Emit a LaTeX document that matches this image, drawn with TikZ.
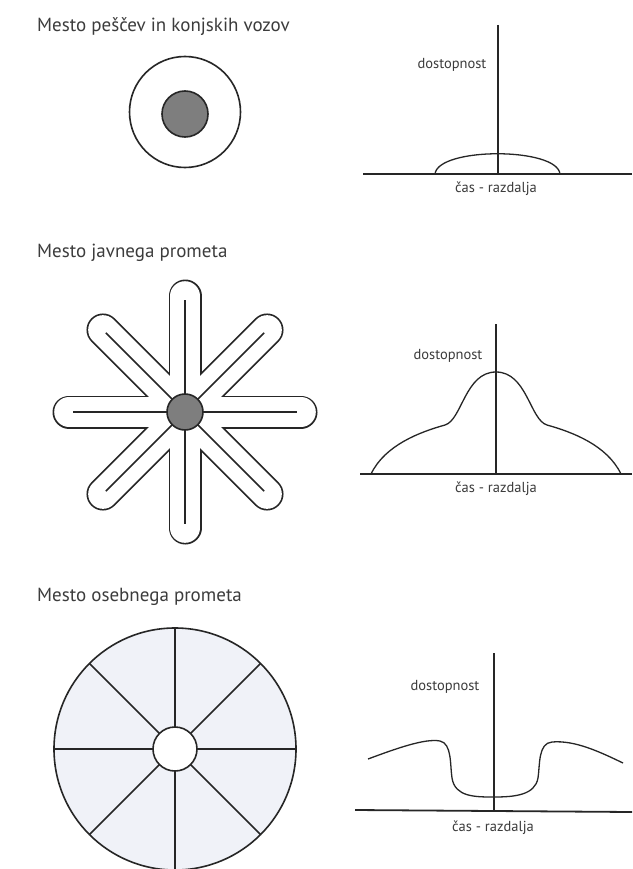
\documentclass[tikz,border=0pt]{standalone}
\usepackage{fontspec}
\setmainfont{PT Sans}
\definecolor{txt}{HTML}{3C3C3C}
\definecolor{hub}{HTML}{7E7E7E}
\definecolor{tint}{HTML}{F0F2F8}
\begin{document}
\begin{tikzpicture}[x=1pt,y=-1pt,
  title/.style={anchor=west,text=txt,font=\fontsize{19}{22}\selectfont,inner sep=0pt},
  lbl/.style={text=txt,font=\fontsize{14.5}{17}\selectfont,inner sep=0pt},
  axis/.style={line width=1.8pt,black!85},
  curve/.style={line width=1.3pt,black!85},
  ring/.style={line width=1.6pt,black!85},
  spoke/.style={line width=1.6pt,black!85},
  armout/.style={line width=33pt,line cap=round,black!85},
  armin/.style={line width=29.6pt,line cap=round,white},
  armline/.style={line width=1.5pt,black!85}]
\path[use as bounding box] (0,0) rectangle (632,869);
\clip (0,0) rectangle (632,869);
\fill[white] (0,0) rectangle (632,869);

% ---------- Panel 1 ----------
\node[title] (t1) at (37,27) {Mesto peščev in konjskih vozov};
\draw[ring] (185,112) circle (55.5);
\draw[ring,fill=hub] (185,114) circle (23);

\coordinate (y1t) at (498,25);
\coordinate (y1b) at (498,175);
\coordinate (x1l) at (363,174);
\coordinate (x1r) at (632,174);
\draw[axis] (y1t) -- (y1b);
\draw[axis] (x1l) -- (x1r);
\draw[curve] (435,174) .. controls (438,147) and (557,147) .. (560,174);
\node[lbl] (d1) at (452,65) {dostopnost};
\node[lbl] (c1) at (496,189) {čas - razdalja};

% ---------- Panel 2 ----------
\node[title] (t2) at (37,253) {Mesto javnega prometa};
\coordinate (s) at (185,412);
\foreach \a in {0,45,...,315} {
  \draw[armout] (s) -- ++(\a:116);
}
\foreach \a in {0,45,...,315} {
  \draw[armin] (s) -- ++(\a:116);
}
\foreach \a in {0,45,...,315} {
  \draw[armline] (s) -- ++(\a:112);
}
\draw[ring,fill=hub] (s) circle (18);

\coordinate (y2t) at (496,324);
\coordinate (y2b) at (496,475);
\coordinate (x2l) at (360,474);
\coordinate (x2r) at (632,474);
\draw[axis] (y2t) -- (y2b);
\draw[axis] (x2l) -- (x2r);
\draw[curve] (371,474) .. controls (385,445) and (420,432) .. (445,425)
  .. controls (462,420) and (465,372) .. (496,372)
  .. controls (527,372) and (530,420) .. (547,425)
  .. controls (572,432) and (607,445) .. (621,474);
\node[lbl] (d2) at (448,356) {dostopnost};
\node[lbl] (c2) at (496,489) {čas - razdalja};

% ---------- Panel 3 ----------
\node[title] (t3) at (37,597) {Mesto osebnega prometa};
\coordinate (w) at (175,749);
\draw[ring,fill=tint] (w) circle (121);
\foreach \a in {0,45,...,315} {
  \draw[spoke] (w) ++(\a:22) -- ++(\a:99);
}
\draw[ring,fill=white] (w) circle (22);

\coordinate (y3t) at (494,653);
\coordinate (y3b) at (494,812);
\coordinate (x3l) at (355,810);
\coordinate (x3r) at (632,812);
\draw[axis] (y3t) -- (y3b);
\draw[axis] (x3l) -- (x3r);
\draw[curve] (368,759) .. controls (395,749) and (425,738) .. (440,741)
  .. controls (452,743.4) and (450,765) .. (452,778)
  .. controls (455,797) and (475,797) .. (494,797)
  .. controls (515,797) and (535,795) .. (538,778)
  .. controls (540,765) and (538,743) .. (552,742)
  .. controls (575,740) and (600,752) .. (623,763);
\node[lbl] (d3) at (445,687) {dostopnost};
\node[lbl] (c3) at (493,828) {čas - razdalja};
\end{tikzpicture}
\end{document}
